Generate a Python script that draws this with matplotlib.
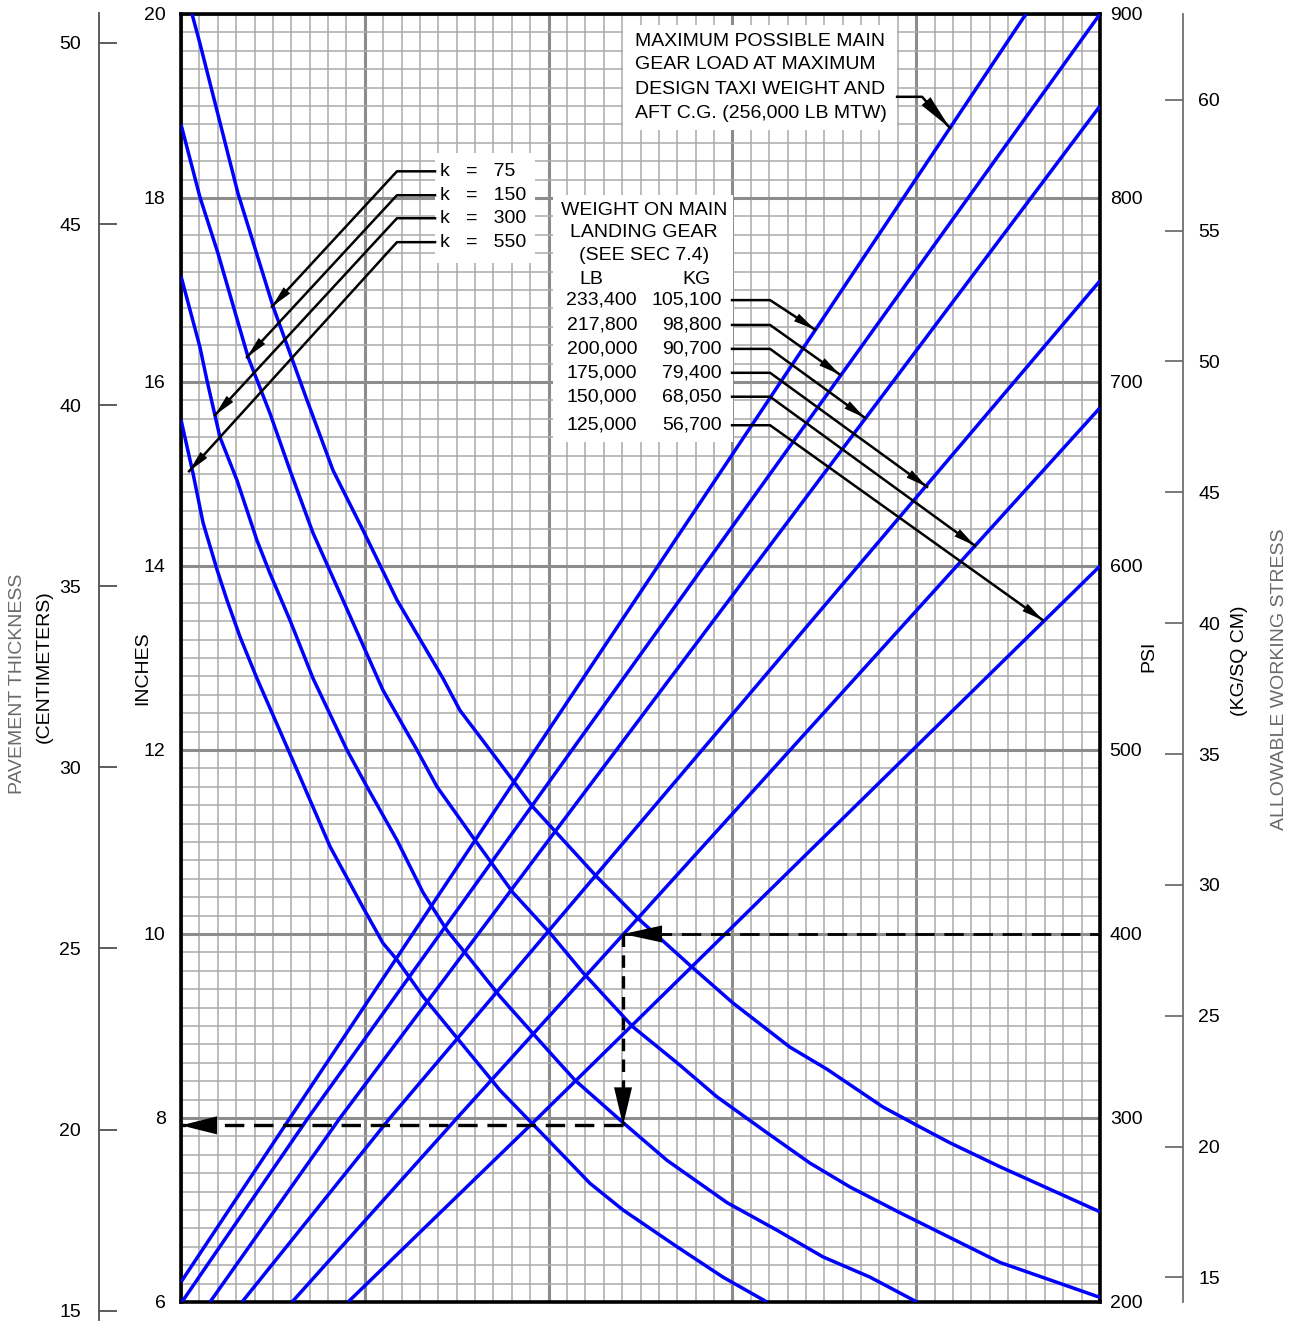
import numpy as np
import matplotlib
matplotlib.use('Agg')
import matplotlib.pyplot as plt
from matplotlib.patches import Polygon, Rectangle
from matplotlib.ticker import MultipleLocator
from matplotlib import font_manager


# k-value curves, x in chart grid units (0..50), thickness in inches
k_names = ['k   =   75', 'k   =   150', 'k   =   300', 'k   =   550']
k75_x = [0.60, 1.03, 3.10, 5.01, 6.86, 8.27, 9.90, 11.75, 14.25, 15.18, 16.81, 19.15,
         22.63, 24.86, 27.69, 30.03, 33.13, 35.15, 38.19, 40.04, 41.84, 44.56, 50.0]
k75_y = [20.0, 19.68, 18.05, 16.82, 15.80, 15.04, 14.39, 13.63, 12.78, 12.43, 12.0, 11.38,
         10.62, 10.17, 9.66, 9.25, 8.77, 8.53, 8.12, 7.92, 7.73, 7.47, 6.98]
k150_x = [0.0, 1.03, 2.01, 3.65, 4.84, 5.93, 7.18, 8.81, 10.99, 12.84, 13.93, 15.89, 18.06,
          20.08, 21.87, 24.59, 26.99, 29.16, 31.88, 34.22, 36.40, 39.12, 41.84, 44.56, 50.0]
k150_y = [18.80, 18.01, 17.40, 16.27, 15.66, 15.04, 14.36, 13.63, 12.65, 12.0, 11.60, 11.05,
          10.45, 10.01, 9.58, 8.99, 8.60, 8.23, 7.84, 7.51, 7.25, 6.97, 6.70, 6.43, 6.05]
k300_x = [0.0, 1.03, 1.41, 2.12, 3.05, 4.13, 4.84, 5.93, 7.18, 9.03, 10.12, 11.75, 13.17,
          14.47, 15.56, 17.36, 20.08, 21.44, 24.05, 26.44, 29.71, 32.43, 34.93, 37.49, 40.04]
k300_y = [17.15, 16.38, 16.02, 15.40, 14.93, 14.28, 13.92, 13.41, 12.78, 12.0, 11.60, 11.02,
          10.45, 10.04, 9.77, 9.32, 8.71, 8.41, 7.95, 7.54, 7.08, 6.78, 6.49, 6.27, 6.0]
k550_x = [0.0, 0.65, 1.20, 1.96, 2.50, 3.21, 4.13, 6.47, 8.11, 9.90, 10.99, 11.75, 13.17,
          17.36, 20.08, 22.25, 24.05, 26.99, 29.49, 31.88]
k550_y = [15.59, 15.01, 14.47, 13.96, 13.63, 13.23, 12.78, 11.71, 10.95, 10.29, 9.90, 9.72,
          9.32, 8.30, 7.74, 7.29, 7.0, 6.60, 6.27, 6.0]
k_curves = [(k75_x, k75_y), (k150_x, k150_y), (k300_x, k300_y), (k550_x, k550_y)]

# weight on main landing gear lines
w_lb = ['233,400', '217,800', '200,000', '175,000', '150,000', '125,000']
w_kg = ['105,100', '98,800', '90,700', '79,400', '68,050', '56,700']
w_x = [[0.0, 5.93, 45.97], [0.05, 6.91, 50.0], [1.58, 8.65, 50.0],
       [3.32, 11.37, 50.0], [6.04, 15.02, 50.0], [9.09, 19.0, 50.0]]
w_y = [[6.217, 8.0, 20.0], [6.0, 8.0, 20.0], [6.0, 8.0, 19.0],
       [6.0, 8.0, 17.10], [6.0, 8.0, 15.72], [6.0, 7.92, 14.0]]

# axis scales
inch_ticks = [6, 8, 10, 12, 14, 16, 18, 20]
psi_ticks = [200, 300, 400, 500, 600, 700, 800, 900]
cm_ticks = [15, 20, 25, 30, 35, 40, 45, 50]
kgcm_ticks = [15, 20, 25, 30, 35, 40, 45, 50, 55, 60]

# worked example: 400 psi -> 150,000 lb line -> k = 300 -> thickness
ex_x = 24.05
ex_stress = 10.0
ex_thick = 7.92


def pick_font(names):
    for n in names:
        try:
            font_manager.findfont(font_manager.FontProperties(family=n),
                                  fallback_to_default=False)
            return n
        except ValueError:
            continue
    return 'DejaVu Sans'


FONT = pick_font(['Liberation Sans Narrow', 'Liberation Sans'])
FS = 16 if 'Narrow' in FONT else 14
plt.rcParams['font.family'] = [FONT, 'DejaVu Sans']
plt.rcParams['lines.scale_dashes'] = False

W, H = 1305, 1321
L, R, T, B = 181, 1100, 14, 1302

fig = plt.figure(figsize=(W / 100, H / 100), dpi=100)
ax = fig.add_axes([L / W, (H - B) / H, (R - L) / W, (B - T) / H])
ax.set_xlim(0, 50)
ax.set_ylim(6, 20)

ax.xaxis.set_major_locator(MultipleLocator(10))
ax.xaxis.set_minor_locator(MultipleLocator(1))
ax.yaxis.set_major_locator(MultipleLocator(2))
ax.yaxis.set_minor_locator(MultipleLocator(0.2))
ax.set_axisbelow(True)
ax.grid(which='minor', color='#a9a9a9', lw=1.1)
ax.grid(which='major', color='#8c8c8c', lw=2.2)
ax.tick_params(which='both', length=0)
ax.tick_params(axis='x', labelbottom=False)
ax.set_yticks(inch_ticks)
ax.tick_params(axis='y', labelsize=14, pad=11)
for s in ax.spines.values():
    s.set_linewidth(2.6)
    s.set_color('black')

# PSI on the right of the chart
ax_psi = ax.twinx()
ax_psi.set_ylim(200, 900)
ax_psi.set_yticks(psi_ticks)
ax_psi.tick_params(length=0, labelsize=14, pad=7)
for s in ax_psi.spines.values():
    s.set_visible(False)

# centimetre scale, far left
cm_lo = (6 - (1320 - B) / 92) * 2.54
cm_hi = (20 + (T - 13) / 92) * 2.54
ax_cm = fig.add_axes([99 / W, (H - 1320) / H, 30 / W, (1320 - 13) / H])
ax_cm.set_ylim(cm_lo, cm_hi)
ax_cm.set_yticks(cm_ticks)
ax_cm.set_xticks([])
ax_cm.patch.set_visible(False)
for k, s in ax_cm.spines.items():
    s.set_visible(k == 'left')
ax_cm.spines['left'].set_color('#505050')
ax_cm.spines['left'].set_linewidth(1.3)
ax_cm.tick_params(axis='y', direction='in', length=13, width=1.3, color='#505050',
                  labelsize=14, pad=13)

# kg/sq cm scale, far right
ax_kg = fig.add_axes([1150 / W, (H - B) / H, 33 / W, (B - T) / H])
ax_kg.set_ylim(200 / 14.223, 900 / 14.223)
ax_kg.set_yticks(kgcm_ticks)
ax_kg.set_xticks([])
ax_kg.patch.set_visible(False)
for k, s in ax_kg.spines.items():
    s.set_visible(k == 'right')
ax_kg.spines['right'].set_color('#707070')
ax_kg.spines['right'].set_linewidth(1.3)
ax_kg.yaxis.tick_right()
ax_kg.tick_params(axis='y', direction='in', length=13, width=1.3, color='#707070',
                  labelsize=14, pad=11)

# curves
for xs, ys in k_curves:
    ax.plot(xs, ys, color='#0000ff', lw=2.5, zorder=3, solid_capstyle='butt')
for xs, ys in zip(w_x, w_y):
    ax.plot(xs, ys, color='#0000ff', lw=2.5, zorder=3, solid_capstyle='butt')


def head(tip, tail, length, half):
    t = ax.transData
    p = t.transform(tip)
    q = t.transform(tail)
    d = (q - p) / np.hypot(*(q - p))
    n = np.array([-d[1], d[0]])
    pts = [p, p + d * length + n * half, p + d * length - n * half]
    ax.add_patch(Polygon(t.inverted().transform(pts), closed=True, color='black',
                         lw=0, zorder=7))


# white label boxes
for x0, y0, x1, y1 in [(13.82, 17.29, 19.26, 18.49), (20.24, 15.35, 30.03, 18.03),
                       (24.05, 18.74, 38.96, 19.88)]:
    ax.add_patch(Rectangle((x0, y0), x1 - x0, y1 - y0, facecolor='white',
                           edgecolor='none', zorder=1.5))

# k legend
k_text_y = [18.29, 18.03, 17.78, 17.52]
k_tips = [(4.95, 16.82), (3.59, 16.27), (1.85, 15.64), (0.44, 15.03)]
for name, ty, tip in zip(k_names, k_text_y, k_tips):
    ax.text(14.09, ty, name, fontsize=FS, va='center', ha='left', zorder=6)
    ax.plot([13.82, 11.75, tip[0]], [ty, ty, tip[1]], color='black', lw=1.8, zorder=6)
    head(tip, (11.75, ty), 22, 4.5)

# weight legend
for line, ty in zip(['WEIGHT ON MAIN', 'LANDING GEAR', '(SEE SEC 7.4)'],
                    [17.86, 17.62, 17.37]):
    ax.text(25.19, ty, line, fontsize=FS, ha='center', va='center', zorder=6)
ax.text(22.31, 17.11, 'LB', fontsize=FS, ha='center', va='center', zorder=6)
ax.text(28.02, 17.11, 'KG', fontsize=FS, ha='center', va='center', zorder=6)
w_text_y = [16.89, 16.62, 16.36, 16.10, 15.84, 15.53]
w_tips = [(34.49, 16.57), (35.85, 16.08), (37.21, 15.61), (40.59, 14.86),
          (43.20, 14.22), (46.90, 13.41)]
for lb, kg, ty, tip in zip(w_lb, w_kg, w_text_y, w_tips):
    ax.text(24.81, ty, lb, fontsize=FS, ha='right', va='center', zorder=6)
    ax.text(29.43, ty, kg, fontsize=FS, ha='right', va='center', zorder=6)
    ax.plot([29.98, 32.05, tip[0]], [ty, ty, tip[1]], color='black', lw=1.8, zorder=6)
    head(tip, (32.05, ty), 22, 4.5)

# maximum gear load note
for line, ty in zip(['MAXIMUM POSSIBLE MAIN', 'GEAR LOAD AT MAXIMUM',
                     'DESIGN TAXI WEIGHT AND', 'AFT C.G. (256,000 LB MTW)'],
                    [19.70, 19.45, 19.18, 18.92]):
    ax.text(24.70, ty, line, fontsize=FS, ha='left', va='center', zorder=6)
ax.plot([38.96, 40.32, 41.84], [19.10, 19.10, 18.76], color='black', lw=1.8, zorder=6)
head((41.84, 18.76), (40.32, 19.10), 36, 6)

# worked example path
ax.plot([ex_x, 50], [ex_stress, ex_stress], color='black', lw=2.0, dashes=(14, 7), zorder=5)
ax.plot([ex_x, ex_x], [ex_stress, ex_thick], color='black', lw=2.4, dashes=(9, 6), zorder=5)
ax.plot([ex_x, 0], [ex_thick, ex_thick], color='black', lw=2.4, dashes=(14, 7), zorder=5)
head((ex_x, ex_stress), (50, ex_stress), 39, 8.5)
head((ex_x, ex_thick), (ex_x, ex_stress), 38, 9)
head((0, ex_thick), (ex_x, ex_thick), 36, 9)


def ftext(x, y, s, **kw):
    fig.text(x / W, 1 - y / H, s, rotation=90, ha='center', va='center', **kw)


ftext(143, 668, 'INCHES', fontsize=14)
ftext(1149, 656, 'PSI', fontsize=14)
ftext(18, 684, 'PAVEMENT THICKNESS', fontsize=14, color='#6a6a6a')
ftext(44, 667, '(CENTIMETERS)', fontsize=14)
ftext(1240, 661, '(KG/SQ CM)', fontsize=14)
ftext(1280, 679, 'ALLOWABLE WORKING STRESS', fontsize=14, color='#6a6a6a')

fig.savefig('out.png', dpi=100)
